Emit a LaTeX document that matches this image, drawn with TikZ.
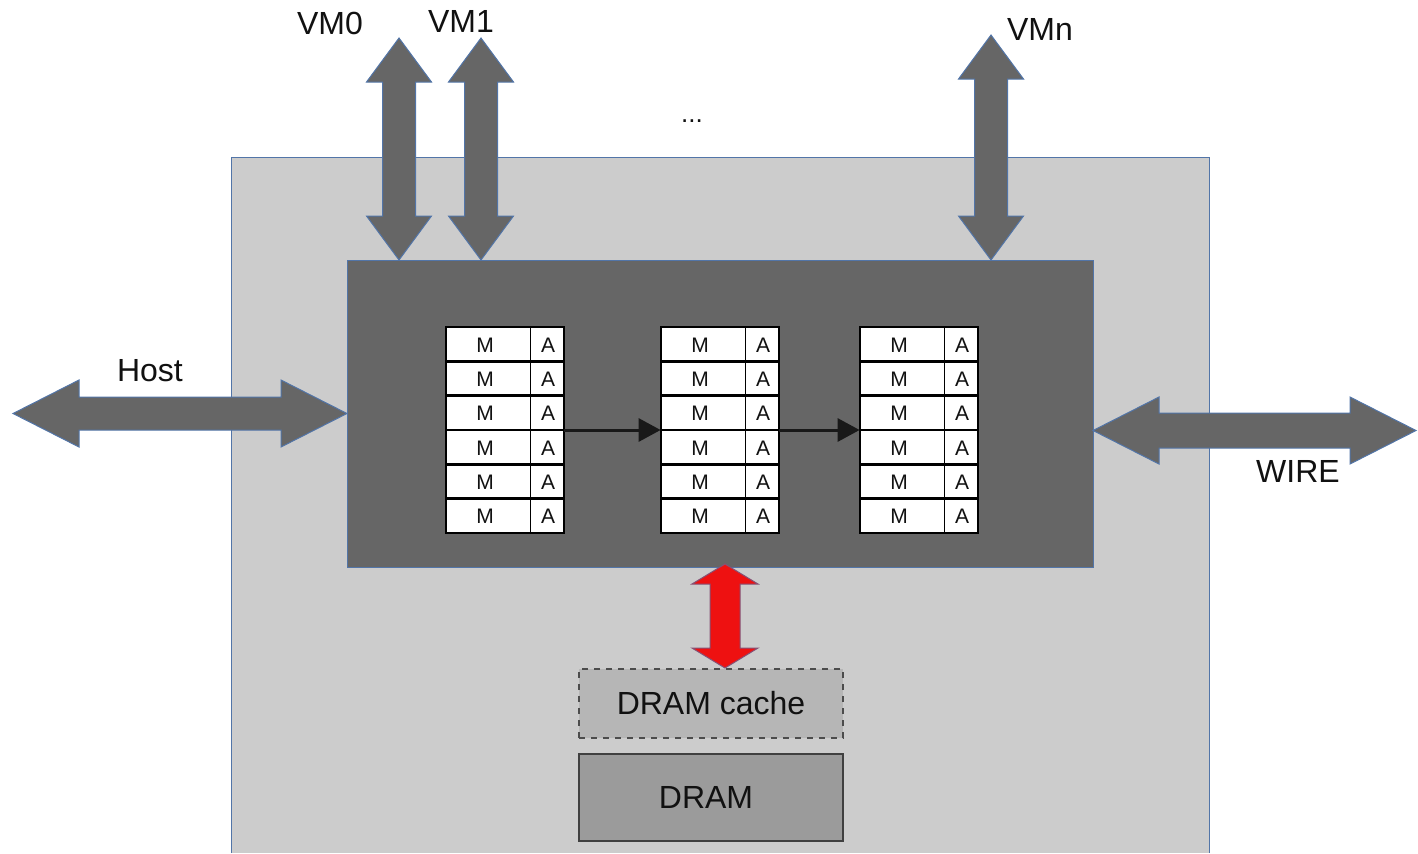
\documentclass[tikz,border=0pt]{standalone}
\usepackage{fontspec}
\setmainfont{Liberation Sans}
\usetikzlibrary{arrows.meta}
\definecolor{bggray}{HTML}{CCCCCC}
\definecolor{darkgray}{HTML}{666666}
\definecolor{edgeblue}{HTML}{5275A8}
\definecolor{cachegray}{HTML}{B6B6B6}
\definecolor{dramgray}{HTML}{9B9B9B}
\definecolor{redarrow}{HTML}{EE1111}
\definecolor{txt}{HTML}{111111}
% vertical double block arrow: x, top tip y, bottom tip y, head length, head half width, shaft half width, style
\newcommand\myvarrow[7]{%
  \draw[#7] (#1,#2) -- ({#1+#5},{#2+#4}) -- ({#1+#6},{#2+#4}) -- ({#1+#6},{#3-#4}) -- ({#1+#5},{#3-#4}) -- (#1,#3)
    -- ({#1-#5},{#3-#4}) -- ({#1-#6},{#3-#4}) -- ({#1-#6},{#2+#4}) -- ({#1-#5},{#2+#4}) -- cycle;}
% horizontal double block arrow: y, left tip x, right tip x, head length, head half width, shaft half width, style
\newcommand\myharrow[7]{%
  \draw[#7] (#2,#1) -- ({#2+#4},{#1-#5}) -- ({#2+#4},{#1-#6}) -- ({#3-#4},{#1-#6}) -- ({#3-#4},{#1-#5}) -- (#3,#1)
    -- ({#3-#4},{#1+#5}) -- ({#3-#4},{#1+#6}) -- ({#2+#4},{#1+#6}) -- ({#2+#4},{#1+#5}) -- cycle;}
\tikzset{
  blockarrow/.style={fill=darkgray, draw=edgeblue, line width=0.5pt, line join=miter},
  redblock/.style={fill=redarrow, draw=edgeblue!70!red, line width=0.5pt},
  label/.style={text=txt, font=\fontsize{16}{19}\selectfont, inner sep=0pt},
  cell/.style={text=txt, font=\fontsize{10.5}{12}\selectfont, inner sep=0pt},
  tablebox/.style={minimum width=59pt, minimum height=103pt, inner sep=0pt},
  rowbox/.style={fill=white, draw=black, line width=1.4pt},
  flow/.style={draw=black!90, line width=1.5pt, -{Triangle[length=11pt, width=11.5pt]}},
  corebox/.style={fill=darkgray, draw=edgeblue, line width=0.5pt, minimum width=373pt, minimum height=153.5pt, inner sep=0pt},
  cachebox/.style={fill=cachegray, draw=black!70, dashed, line width=0.8pt, minimum width=132pt, minimum height=34.5pt, inner sep=0pt, text=txt, font=\fontsize{16}{19}\selectfont},
  drambox/.style={fill=dramgray, draw=black!75, line width=0.7pt, minimum width=132pt, minimum height=43.5pt, inner sep=0pt, text=txt, font=\fontsize{16}{19}\selectfont}
}
\begin{document}
\begin{tikzpicture}[x=0.5pt, y=-0.5pt]
\useasboundingbox (0,0) rectangle (1418,853);
% outer board
\fill[bggray] (231,157) rectangle (1209,853);
\draw[edgeblue, line width=0.5pt] (231,853) -- (231,157) -- (1209,157) -- (1209,853);
% core
\node[corebox] (core) at (720,413.5) {};
% VM arrows
\myvarrow{399}{38}{260}{44}{32.5}{16.5}{blockarrow}
\myvarrow{481}{38}{260}{44}{32.5}{16.5}{blockarrow}
\myvarrow{991}{35}{260}{44}{32.5}{16.5}{blockarrow}
% Host and WIRE arrows
\myharrow{413.5}{13}{347}{66}{33.5}{16.5}{blockarrow}
\myharrow{430.5}{1093}{1416}{66}{33.5}{17.5}{blockarrow}
% red arrow
\myvarrow{725}{564}{668}{20}{33}{15}{redblock}
% tables
\foreach \tn/\L in {t1/446, t2/661, t3/860} {
  \node[tablebox] (\tn) at ({\L+59},430) {};
  \foreach \i in {0,...,5} {
    \draw[rowbox] (\L,{327+\i*34.333}) rectangle ({\L+118},{327+(\i+1)*34.333});
    \draw[black, line width=0.5pt] ({\L+84},{327+\i*34.333}) -- ({\L+84},{327+(\i+1)*34.333});
    \node[cell] at ({\L+39},{345+\i*34.333}) {M};
    \node[cell] at ({\L+102},{345+\i*34.333}) {A};
  }
}
\draw[flow] (t1.east) -- (t2.west);
\draw[flow] (t2.east) -- (t3.west);
% memory
\node[cachebox] (cache) at (711,703.5) {DRAM cache};
\node[drambox] (dram) at (711,797.5) {\hspace*{-5pt}DRAM};
% labels
\node[label] (vm0) at (330,23) {VM0};
\node[label] (vm1) at (461,21) {VM1};
\node[label] (vmn) at (1040,29) {VMn};
\node[label, font=\fontsize{13}{15}\selectfont] (dots) at (692,121) {...};
\node[label] (host) at (150,371) {Host};
\node[label] (wire) at (1298,471) {WIRE};
\end{tikzpicture}
\end{document}
